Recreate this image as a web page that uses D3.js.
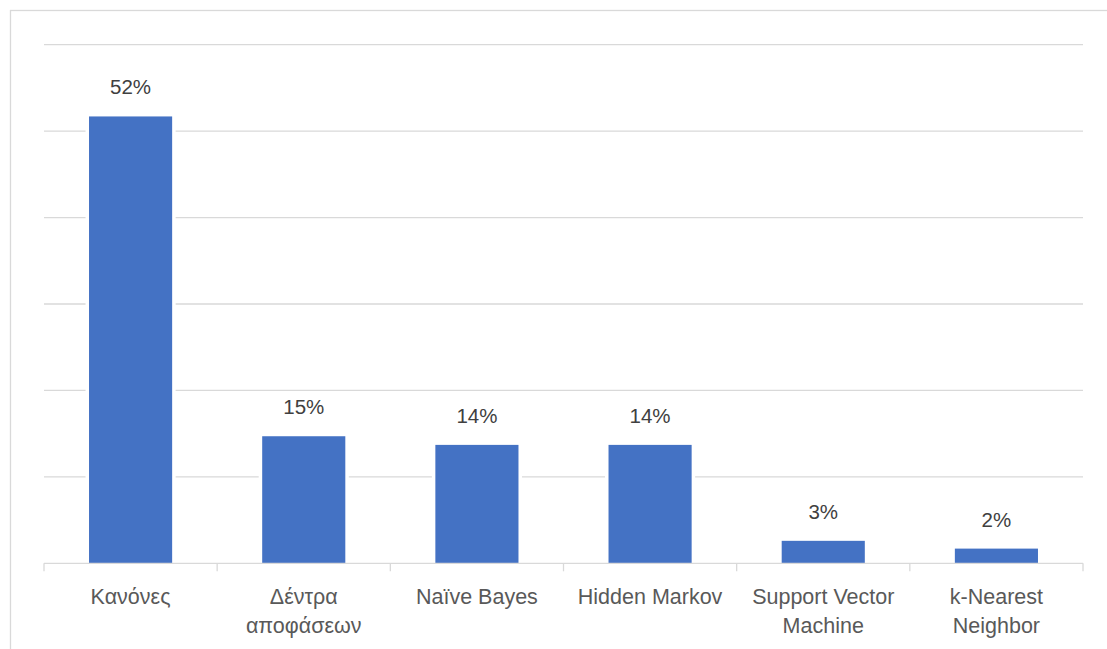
<!DOCTYPE html>
<html>
<head>
<meta charset="utf-8">
<script src="https://cdn.jsdelivr.net/npm/d3@7"></script>
<style>
  body { margin: 0; background: #fff; }
  text { font-family: "Liberation Sans", Arial, sans-serif; }
</style>
</head>
<body>
<div class="d3"></div>
<script>
// values (labels show them rounded)
const categories = ["Κανόνες", "Δέντρα αποφάσεων", "Naïve Bayes", "Hidden Markov", "Support Vector Machine", "k-Nearest Neighbor"];
const categoryLines = [["Κανόνες"], ["Δέντρα", "αποφάσεων"], ["Naïve Bayes"], ["Hidden Markov"], ["Support Vector", "Machine"], ["k-Nearest", "Neighbor"]];
const values = [51.7, 14.7, 13.7, 13.7, 2.6, 1.7];
const yTicks = [0, 10, 20, 30, 40, 50, 60];

function main() {
    const width = 1107, height = 649;
    const left = 44, right = 1083, top = 44.7, bottom = 563.3;

    const svg = d3.select(".d3")
        .append("svg")
        .attr("width", width)
        .attr("height", height);

    // chart frame
    svg.append("rect")
        .attr("x", 10.5).attr("y", 10.5)
        .attr("width", 1110).attr("height", 660)
        .attr("fill", "none")
        .attr("stroke", "#d9d9d9")
        .attr("stroke-width", 1.3);

    const x = d3.scaleBand()
        .domain(categories)
        .range([left, right])
        .paddingInner(0.52)
        .paddingOuter(0.26);

    const y = d3.scaleLinear()
        .domain([0, 60])
        .range([bottom, top]);

    // gridlines
    svg.append("g")
        .selectAll("line")
        .data(yTicks.slice(1))
        .enter().append("line")
        .attr("x1", left).attr("x2", right)
        .attr("y1", d => y(d)).attr("y2", d => y(d))
        .attr("stroke", "#d9d9d9")
        .attr("stroke-width", 1.3);

    // bars (white outline breaks the gridlines)
    svg.append("g")
        .selectAll("rect")
        .data(values)
        .enter().append("rect")
        .attr("x", (d, i) => x(categories[i]))
        .attr("width", x.bandwidth())
        .attr("y", d => y(d))
        .attr("height", d => y(0) - y(d))
        .attr("fill", "#4472c4")
        .attr("stroke", "#ffffff")
        .attr("stroke-width", 7)
        .style("paint-order", "stroke");

    // x axis line and ticks
    svg.append("line")
        .attr("x1", left).attr("x2", right)
        .attr("y1", bottom).attr("y2", bottom)
        .attr("stroke", "#d9d9d9")
        .attr("stroke-width", 1.3);

    const step = x.step();
    svg.append("g")
        .selectAll("line")
        .data(d3.range(categories.length + 1))
        .enter().append("line")
        .attr("x1", i => left + i * step).attr("x2", i => left + i * step)
        .attr("y1", bottom).attr("y2", bottom + 8)
        .attr("stroke", "#d9d9d9")
        .attr("stroke-width", 1.3);

    // value labels
    svg.append("g")
        .selectAll("text")
        .data(values)
        .enter().append("text")
        .attr("x", (d, i) => x(categories[i]) + x.bandwidth() / 2)
        .attr("y", d => y(d) - 22)
        .attr("text-anchor", "middle")
        .attr("font-size", "20.5px")
        .attr("fill", "#404040")
        .text(d => Math.round(d) + "%");

    // category labels
    const labels = svg.append("g")
        .selectAll("text")
        .data(categories)
        .enter().append("text")
        .attr("x", d => x(d) + x.bandwidth() / 2)
        .attr("y", 604)
        .attr("text-anchor", "middle")
        .attr("font-size", "21.5px")
        .attr("fill", "#595959");

    labels.selectAll("tspan")
        .data((d, i) => categoryLines[i])
        .enter().append("tspan")
        .attr("x", function () { return d3.select(this.parentNode).attr("x"); })
        .attr("dy", (d, j) => j === 0 ? 0 : 28.5)
        .text(d => d);
}
main();
</script>
</body>
</html>
